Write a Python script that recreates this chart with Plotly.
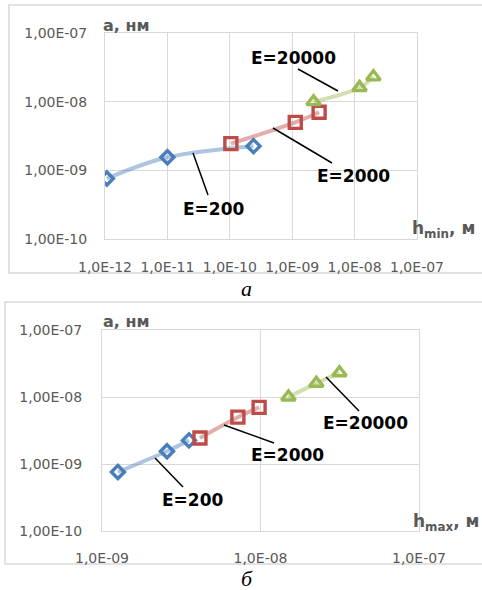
import plotly.graph_objects as go

# Constant a (m) for each series, shared by both panels
a_e200 = [7.6e-10, 1.55e-9, 2.25e-9]
a_e2000 = [2.45e-9, 5.0e-9, 7.0e-9]
a_e20000 = [1.0e-8, 1.6e-8, 2.3e-8]

# Panel a: minimal thickness h_min (m)
hmin_e200 = [1.07e-12, 1.0e-11, 2.4e-10]
hmin_e2000 = [1.04e-10, 1.12e-9, 2.7e-9]
hmin_e20000 = [2.2e-9, 1.2e-8, 2.0e-8]

# Panel б: maximal thickness h_max (m)
hmax_e200 = [1.26e-9, 2.57e-9, 3.54e-9]
hmax_e2000 = [4.15e-9, 7.2e-9, 9.8e-9]
hmax_e20000 = [1.5e-8, 2.25e-8, 3.15e-8]

y_tickvals = [1e-10, 1e-9, 1e-8, 1e-7]
y_ticktext = ["1,00E-10", "1,00E-09", "1,00E-08", "1,00E-07"]
xa_tickvals = [1e-12, 1e-11, 1e-10, 1e-9, 1e-8, 1e-7]
xa_ticktext = ["1,0E-12", "1,0E-11", "1,0E-10", "1,0E-09", "1,0E-08", "1,0E-07"]
xb_tickvals = [1e-9, 1e-8, 1e-7]
xb_ticktext = ["1,0E-09", "1,0E-08", "1,0E-07"]

W, H = 482, 590
GRID = "#D9D9D9"
GREY = "#595959"


def px(x):
    return x / W


def py(y):
    return 1 - y / H


series_style = [
    ("E=200", "diamond-open", 10, "#4A7EBB", "rgba(74,126,187,0.45)"),
    ("E=2000", "square-open", 12, "#BE4B48", "rgba(190,75,72,0.45)"),
    ("E=20000", "triangle-up-open", 12, "#98B954", "rgba(152,185,84,0.45)"),
]

fig = go.Figure()

panels = [
    ("x", "y", [hmin_e200, hmin_e2000, hmin_e20000]),
    ("x2", "y2", [hmax_e200, hmax_e2000, hmax_e20000]),
]
a_sets = [a_e200, a_e2000, a_e20000]

for xref, yref, xs_list in panels:
    for (name, sym, size, mcol, lcol), xs, ys in zip(series_style, xs_list, a_sets):
        fig.add_trace(go.Scatter(
            x=xs, y=ys, xaxis=xref, yaxis=yref, name=name,
            mode="lines", line=dict(color=lcol, width=4, shape="spline", smoothing=1),
            showlegend=False, hoverinfo="skip"))
    for (name, sym, size, mcol, lcol), xs, ys in zip(series_style, xs_list, a_sets):
        fig.add_trace(go.Scatter(
            x=xs, y=ys, xaxis=xref, yaxis=yref, name=name,
            mode="markers",
            marker=dict(symbol=sym, size=size, color=mcol, line=dict(color=mcol, width=3.4)),
            showlegend=False))

axis_common = dict(
    type="log", showgrid=True, gridcolor=GRID, gridwidth=1,
    showline=True, linecolor=GRID, linewidth=1, mirror=True,
    zeroline=False, ticks="", automargin=False, tickangle=0,
    tickfont=dict(family="DejaVu Sans", size=14, color=GREY),
)

fig.update_layout(
    template="none",
    width=W, height=H, margin=dict(l=0, r=0, t=0, b=0, pad=0),
    paper_bgcolor="white", plot_bgcolor="white",
    xaxis=dict(axis_common, domain=[px(105), px(417)], range=[-12, -7],
               tickvals=xa_tickvals, ticktext=xa_ticktext, anchor="y",
               ticklabelstandoff=15),
    yaxis=dict(axis_common, domain=[py(239), py(33)], range=[-10, -7],
               tickvals=y_tickvals, ticktext=y_ticktext, anchor="x",
               ticklabelstandoff=14),
    xaxis2=dict(axis_common, domain=[px(102), px(419)], range=[-9, -7],
                tickvals=xb_tickvals, ticktext=xb_ticktext, anchor="y2",
                ticklabelstandoff=14),
    yaxis2=dict(axis_common, domain=[py(531), py(330)], range=[-10, -7],
                tickvals=y_tickvals, ticktext=y_ticktext, anchor="x2",
                ticklabelstandoff=16),
)

shapes = [
    # chart frames
    dict(type="rect", xref="paper", yref="paper", x0=px(9), y0=py(273), x1=px(490), y1=py(5),
         line=dict(color=GRID, width=1.5), layer="below"),
    dict(type="rect", xref="paper", yref="paper", x0=px(5), y0=py(564), x1=px(490), y1=py(302),
         line=dict(color=GRID, width=1.5), layer="below"),
]

# leader lines from series to their labels
leaders = [
    (193, 153, 208, 195), (273, 128, 332, 163), (298, 69, 338, 91),
    (155, 458, 183, 487), (224, 425, 274, 443), (326, 377, 359, 411),
]
for x0, y0, x1, y1 in leaders:
    shapes.append(dict(type="line", xref="paper", yref="paper",
                       x0=px(x0), y0=py(y0), x1=px(x1), y1=py(y1),
                       line=dict(color="black", width=1.5)))

ann = []
labels = [
    ("E=200", 214, 209), ("E=2000", 353, 176), ("E=20000", 293, 58),
    ("E=200", 193, 500), ("E=2000", 287, 455), ("E=20000", 365, 423),
]
for text, x, y in labels:
    ann.append(dict(text=f"<b>{text}</b>", xref="paper", yref="paper", x=px(x), y=py(y),
                    xanchor="center", yanchor="middle", showarrow=False,
                    font=dict(family="DejaVu Sans", size=17, color="black")))

for y in (25, 322):
    ann.append(dict(text="<b>а, нм</b>", xref="paper", yref="paper", x=px(101), y=py(y),
                    xanchor="left", yanchor="middle", showarrow=False,
                    font=dict(family="DejaVu Sans", size=16, color=GREY)))

ann.append(dict(text="<b>h<sub>min</sub>, м</b>", xref="paper", yref="paper", x=px(410), y=py(229),
                xanchor="left", yanchor="middle", showarrow=False,
                font=dict(family="DejaVu Sans", size=17, color=GREY)))
ann.append(dict(text="<b>h<sub>max</sub>, м</b>", xref="paper", yref="paper", x=px(411), y=py(522),
                xanchor="left", yanchor="middle", showarrow=False,
                font=dict(family="DejaVu Sans", size=17, color=GREY)))

for text, y in (("а", 289), ("б", 578)):
    ann.append(dict(text=f"<i>{text}</i>", xref="paper", yref="paper", x=px(247), y=py(y),
                    xanchor="center", yanchor="middle", showarrow=False,
                    font=dict(family="Liberation Serif", size=22, color="black")))

fig.update_layout(shapes=shapes, annotations=ann)
fig.write_html("out.html")
